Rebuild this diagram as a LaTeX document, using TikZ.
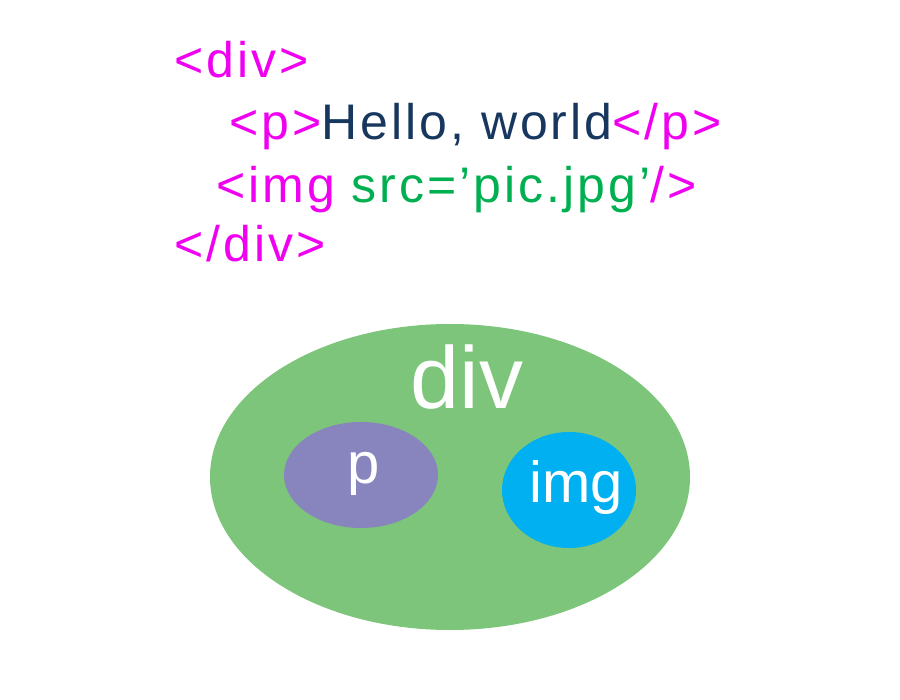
\documentclass[tikz,border=0pt]{standalone}
\usepackage{fontspec}
\setmainfont{Liberation Sans}
\newfontfamily\codefont[LetterSpace=6]{Liberation Sans}
\usetikzlibrary{shapes.geometric}
\definecolor{mag}{HTML}{F000F0}
\definecolor{navy}{HTML}{17375E}
\definecolor{codegreen}{HTML}{00B050}
\definecolor{divgreen}{HTML}{7DC57A}
\definecolor{ppurple}{HTML}{8884BE}
\definecolor{imgblue}{HTML}{00B0F0}
\tikzset{
  code/.style={anchor=base west, inner sep=0pt, font=\codefont\fontsize{50}{60}\selectfont},
  blob/.style={ellipse, draw=none, inner sep=0pt},
  blobtext/.style={anchor=base, inner sep=0pt, text=white},
}
\begin{document}
\begin{tikzpicture}[x=1pt,y=-1pt]
\useasboundingbox (0,0) rectangle (900,700);
\node[code] (l1) at (174,78) {\color{mag}<div>};
\node[code] (l2) at (229,140) {\color{mag}<p>\color{navy}Hello, world\color{mag}</p>};
\node[code] (l3) at (216,203) {\color{mag}<img \color{codegreen}src=’pic.jpg’\color{mag}/>};
\node[code] (l4) at (174,262) {\color{mag}</div>};
\node[blob, fill=divgreen, minimum width=480pt, minimum height=306pt] (div) at (450,477) {};
\node[blob, fill=ppurple, minimum width=154pt, minimum height=106pt] (p) at (361,475) {};
\node[blob, fill=imgblue, minimum width=134pt, minimum height=116pt] (img) at (569,490) {};
\node[blobtext, font=\fontsize{88}{90}\selectfont] (divt) at (467,409) {div};
\node[blobtext, font=\fontsize{58}{60}\selectfont] (pt) at (364,484) {p};
\node[blobtext, font=\fontsize{58}{60}\selectfont] (imgt) at (576,503) {img};
\end{tikzpicture}
\end{document}
